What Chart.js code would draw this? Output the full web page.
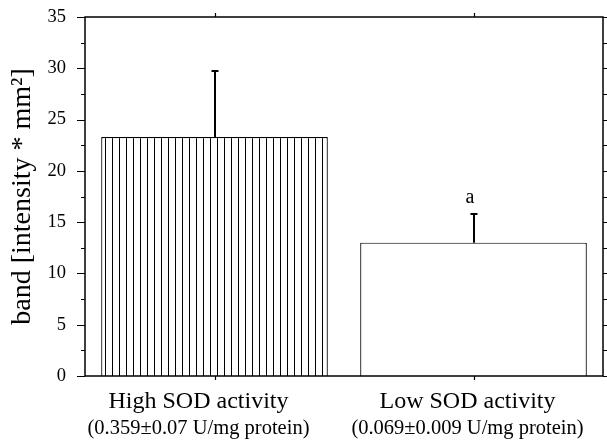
<!DOCTYPE html>
<html>
<head>
<meta charset="utf-8">
<script src="https://cdn.jsdelivr.net/npm/chart.js@4.4.0/dist/chart.umd.min.js"></script>
<style>
  html, body { margin: 0; padding: 0; background: #fff; }
  #wrap { width: 607px; height: 441px; }
</style>
</head>
<body>
<div id="wrap"><canvas id="sodChart" width="607" height="441"></canvas></div>
<script>
// values
const categories = ['High SOD activity', 'Low SOD activity'];
const subLabels = ['(0.359\u00b10.07 U/mg protein)', '(0.069\u00b10.009 U/mg protein)'];
const bandValues = [23.3, 13.0];
const bandErrors = [6.4, 2.8];
const marks = ['', 'a'];
const yMin = 0, yMax = 35, yStep = 5, yMinorStep = 2.5;

const SERIF = '"Liberation Serif", "Times New Roman", serif';
const labelShift = [-16, -6]; // labels sit a bit left of the bar centres in the original

// vertical line hatch for the first bar
function hatch() {
    const c = document.createElement('canvas');
    c.width = 7; c.height = 4;
    const x = c.getContext('2d');
    x.fillStyle = '#fff';
    x.fillRect(0, 0, 7, 4);
    x.fillStyle = '#000';
    x.fillRect(0, 0, 1, 4);
    return x.createPattern(c, 'repeat');
}

const frame = {
    id: 'frame',
    afterDatasetsDraw(chart) {
        const ctx = chart.ctx;
        const ys = chart.scales.y;
        const meta = chart.getDatasetMeta(0);
        ctx.save();
        ctx.strokeStyle = '#000';
        ctx.fillStyle = '#000';
        ctx.lineWidth = 2;
        // error bars (upper only) + significance letters
        meta.data.forEach((bar, i) => {
            const x = Math.round(bar.x);
            const yTop = ys.getPixelForValue(bandValues[i]);
            const yErr = Math.round(ys.getPixelForValue(bandValues[i] + bandErrors[i]));
            ctx.beginPath();
            ctx.moveTo(x, yTop);
            ctx.lineTo(x, yErr);
            ctx.moveTo(x - 3.5, yErr);
            ctx.lineTo(x + 3.5, yErr);
            ctx.stroke();
            if (marks[i]) {
                ctx.font = '20px ' + SERIF;
                ctx.textAlign = 'center';
                ctx.textBaseline = 'alphabetic';
                ctx.fillText(marks[i], x - 4, yErr - 11);
            }
        });
        ctx.restore();
    },
    afterDraw(chart) {
        const ctx = chart.ctx;
        const a = chart.chartArea;
        const xs = chart.scales.x, ys = chart.scales.y;
        ctx.save();
        ctx.strokeStyle = '#000';
        ctx.lineWidth = 1.5;
        ctx.strokeRect(a.left, a.top, a.right - a.left, a.bottom - a.top);

        ctx.lineWidth = 1.2;
        ctx.beginPath();
        for (let v = yMin; v <= yMax + 1e-9; v += yMinorStep) {
            const y = Math.round(ys.getPixelForValue(v)) + 0.5;
            const major = Math.abs(v / yStep - Math.round(v / yStep)) < 1e-6;
            ctx.moveTo(a.left - (major ? 8 : 4), y);
            ctx.lineTo(a.left, y);
            ctx.moveTo(a.right, y);
            ctx.lineTo(a.right + 4, y);
        }
        categories.forEach((c, i) => {
            const x = Math.round(xs.getPixelForValue(i)) + 0.5;
            ctx.moveTo(x, a.bottom);
            ctx.lineTo(x, a.bottom + 4);
            ctx.moveTo(x, a.top);
            ctx.lineTo(x, a.top - 4);
        });
        ctx.stroke();

        // two-line category labels
        ctx.fillStyle = '#000';
        ctx.textAlign = 'center';
        ctx.textBaseline = 'alphabetic';
        categories.forEach((c, i) => {
            const x = xs.getPixelForValue(i) + labelShift[i];
            ctx.font = '24px ' + SERIF;
            ctx.fillText(c, x, a.bottom + 32);
            ctx.font = '20.5px ' + SERIF;
            ctx.fillText(subLabels[i], x, a.bottom + 58);
        });
        ctx.restore();
    }
};

new Chart(document.getElementById('sodChart'), {
    type: 'bar',
    data: {
        labels: categories,
        datasets: [{
            data: bandValues,
            backgroundColor: [hatch(), '#ffffff'],
            borderColor: '#000',
            borderWidth: 1.2,
            categoryPercentage: 1,
            barPercentage: 0.875
        }]
    },
    options: {
        responsive: false,
        animation: false,
        layout: { padding: { top: 17, right: 4, left: 0, bottom: 0 } },
        plugins: { legend: { display: false }, tooltip: { enabled: false } },
        scales: {
            x: {
                grid: { display: false, drawTicks: false },
                border: { display: false },
                ticks: { display: false },
                afterFit(s) {
                    s.height = 65;
                    s.paddingLeft = 0; s.paddingRight = 0;
                }
            },
            y: {
                min: yMin,
                max: yMax,
                grid: { display: false, drawTicks: false },
                border: { display: false },
                ticks: {
                    stepSize: yStep,
                    padding: 19,
                    color: '#000',
                    font: { family: SERIF, size: 18.5 }
                },
                title: {
                    display: true,
                    text: 'band [intensity * mm\u00b2]',
                    color: '#000',
                    font: { family: SERIF, size: 28 },
                    padding: { top: 6, bottom: 0 }
                },
                afterFit(s) {
                    s.width = 85;
                    s.paddingTop = 0; s.paddingBottom = 0;
                }
            }
        }
    },
    plugins: [frame]
});
</script>
</body>
</html>
